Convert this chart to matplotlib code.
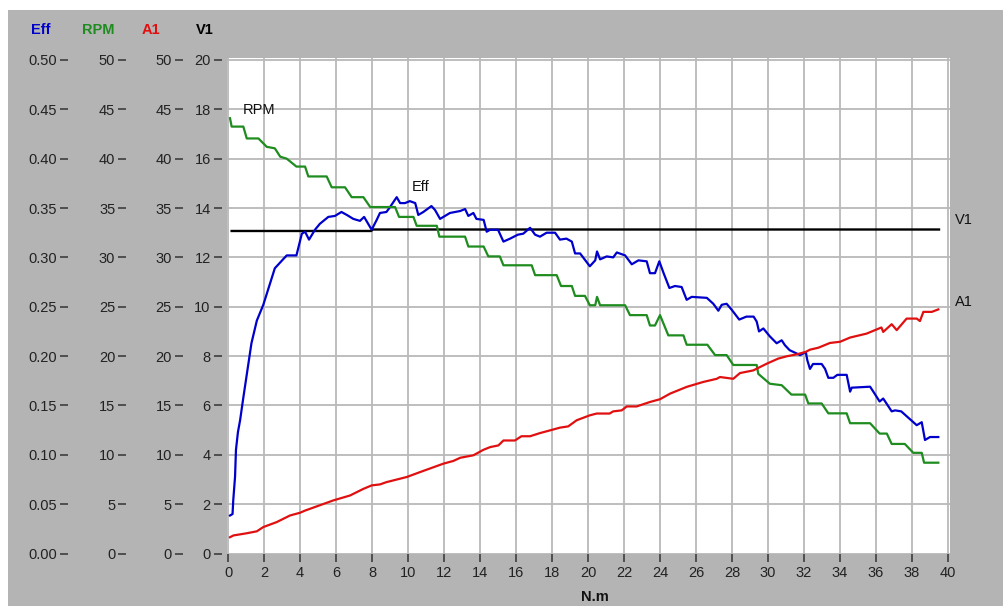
import numpy as np
import matplotlib
matplotlib.use('Agg')
import matplotlib.pyplot as plt
from matplotlib.patches import Rectangle
from matplotlib.ticker import FormatStrFormatter

plt.rcParams['font.family'] = ['Liberation Sans', 'DejaVu Sans']

# ------------------------------------------------------
# data (x = torque, N.m)

eff_x = [0.11, 0.25, 0.29, 0.39, 0.44, 0.55, 0.67, 0.85, 1.3, 1.6,
         1.96, 2.6, 3.26, 3.8, 4.1, 4.28, 4.5, 4.83, 5.1, 5.57,
         5.94, 6.3, 6.6, 6.96, 7.33, 7.56, 7.98, 8.26, 8.44, 8.8,
         9.0, 9.37, 9.56, 9.83, 10.1, 10.4, 10.57, 10.85, 11.3, 11.5,
         11.78, 12.33, 12.9, 13.17, 13.35, 13.63, 13.8, 14.2, 14.37, 14.56,
         15.0, 15.3, 15.67, 16.1, 16.4, 16.78, 17.06, 17.33, 17.7, 18.17,
         18.44, 18.8, 19.1, 19.28, 19.56, 20.1, 20.4, 20.5, 20.67, 21.04,
         21.4, 21.6, 22.06, 22.43, 22.8, 23.26, 23.44, 23.72, 23.96, 24.2,
         24.52, 24.83, 25.2, 25.48, 25.76, 26.6, 26.96, 27.24, 27.43, 27.7,
         27.98, 28.4, 28.8, 29.2, 29.37, 29.5, 29.74, 30.1, 30.48, 30.76,
         30.94, 31.2, 31.78, 32.1, 32.18, 32.33, 32.5, 32.98, 33.17, 33.35,
         33.63, 33.85, 34.37, 34.56, 34.65, 35.67, 35.85, 36.2, 36.4, 36.87,
         37.06, 37.4, 38.07, 38.26, 38.54, 38.72, 39.0, 39.46]
eff = [0.0385, 0.040, 0.054, 0.078, 0.105, 0.123, 0.135, 0.158, 0.213, 0.236,
       0.252, 0.289, 0.302, 0.302, 0.324, 0.326, 0.318, 0.328, 0.334, 0.341,
       0.342, 0.346, 0.343, 0.339, 0.337, 0.341, 0.328, 0.338, 0.345, 0.346,
       0.351, 0.361, 0.355, 0.355, 0.357, 0.355, 0.343, 0.346, 0.352, 0.348,
       0.339, 0.345, 0.347, 0.349, 0.342, 0.345, 0.339, 0.338, 0.326, 0.328,
       0.328, 0.316, 0.319, 0.323, 0.324, 0.330, 0.323, 0.321, 0.325, 0.325,
       0.318, 0.319, 0.316, 0.304, 0.304, 0.291, 0.297, 0.306, 0.298, 0.301,
       0.300, 0.305, 0.302, 0.293, 0.297, 0.296, 0.284, 0.284, 0.296, 0.284,
       0.269, 0.271, 0.270, 0.257, 0.260, 0.259, 0.253, 0.246, 0.252, 0.253,
       0.247, 0.237, 0.240, 0.240, 0.235, 0.225, 0.228, 0.220, 0.213, 0.216,
       0.211, 0.206, 0.201, 0.204, 0.196, 0.187, 0.192, 0.192, 0.187, 0.178,
       0.178, 0.181, 0.181, 0.164, 0.168, 0.169, 0.164, 0.154, 0.157, 0.144,
       0.145, 0.144, 0.133, 0.130, 0.133, 0.115, 0.118, 0.118]

rpm_x = [0.11, 0.2, 0.85, 1.04, 1.69, 2.15, 2.6, 2.9, 3.26, 3.8,
         4.28, 4.46, 5.48, 5.76, 6.5, 6.87, 7.52, 7.9, 9.28, 9.5,
         10.3, 10.48, 11.6, 11.74, 13.17, 13.35, 14.2, 14.46, 15.1, 15.3,
         16.87, 17.06, 18.26, 18.5, 19.1, 19.28, 19.83, 20.1, 20.4, 20.5,
         20.67, 22.06, 22.33, 23.26, 23.44, 23.72, 24.0, 24.46, 25.3, 25.48,
         26.63, 27.06, 27.7, 28.07, 29.37, 29.46, 30.1, 30.76, 31.3, 32.06,
         32.24, 32.98, 33.35, 34.37, 34.56, 35.67, 36.2, 36.6, 36.87, 37.6,
         38.07, 38.54, 38.67, 39.46]
rpm = [44.1, 43.25, 43.25, 42.05, 42.05, 41.2, 41.05, 40.2, 40.0, 39.2,
       39.2, 38.2, 38.2, 37.1, 37.1, 36.1, 36.1, 35.1, 35.1, 34.1,
       34.1, 33.2, 33.2, 32.1, 32.1, 31.1, 31.1, 30.1, 30.1, 29.2,
       29.2, 28.2, 28.2, 27.1, 27.1, 26.1, 26.1, 25.15, 25.15, 26.0,
       25.15, 25.15, 24.15, 24.15, 23.1, 23.1, 24.15, 22.1, 22.1, 21.15,
       21.15, 20.1, 20.1, 19.1, 19.1, 18.2, 17.2, 17.05, 16.1, 16.1,
       15.2, 15.2, 14.2, 14.2, 13.2, 13.2, 12.15, 12.15, 11.1, 11.1,
       10.2, 10.2, 9.2, 9.2]

a1_x = [0.11, 0.3, 1.04, 1.6, 1.96, 2.7, 3.44, 4.0, 4.28, 5.85,
        6.78, 7.52, 7.98, 8.44, 8.8, 9.56, 9.93, 10.67, 11.96, 12.52,
        12.9, 13.63, 14.18, 14.56, 15.02, 15.3, 15.94, 16.3, 16.78, 17.33,
        17.9, 18.44, 18.9, 19.37, 20.1, 20.48, 21.2, 21.4, 21.87, 22.15,
        22.7, 23.44, 24.0, 24.56, 25.48, 26.4, 27.15, 27.33, 28.07, 28.44,
        29.18, 29.93, 30.57, 31.04, 31.6, 32.1, 32.33, 32.8, 33.44, 34.0,
        34.56, 35.48, 36.3, 36.4, 36.87, 37.15, 37.7, 38.26, 38.44, 38.63,
        39.1, 39.46]
a1 = [1.65, 1.83, 2.05, 2.25, 2.68, 3.18, 3.85, 4.13, 4.35, 5.38,
      5.88, 6.55, 6.9, 7.0, 7.23, 7.58, 7.75, 8.25, 9.1, 9.38,
      9.7, 9.95, 10.5, 10.78, 10.95, 11.45, 11.45, 11.88, 11.88, 12.2,
      12.48, 12.75, 12.88, 13.5, 14.0, 14.18, 14.18, 14.4, 14.5, 14.9,
      14.9, 15.35, 15.63, 16.2, 16.88, 17.38, 17.7, 17.88, 17.7, 18.28,
      18.55, 19.23, 19.75, 19.98, 20.18, 20.43, 20.65, 20.85, 21.33, 21.45,
      21.88, 22.28, 22.9, 22.45, 23.23, 22.63, 23.8, 23.8, 23.55, 24.48,
      24.48, 24.73]

v1_x = [0.2, 7.95, 8.05, 39.5]
v1 = [13.07, 13.07, 13.13, 13.13]

x_ticks = list(range(0, 41, 2))
v1_ticks = list(range(0, 21, 2))
rpm_ticks = list(range(0, 51, 5))
a1_ticks = list(range(0, 51, 5))
eff_ticks = [i * 0.05 for i in range(11)]

# ------------------------------------------------------
# figure, in pixel units of the original

W, H = 1004, 606
BLUE, GREEN, RED, BLACK = '#0000cc', '#1e8c1e', '#e01010', 'black'
GRAY = '#b4b4b4'
FS = 10.5

fig = plt.figure(figsize=(W / 100, H / 100), dpi=100)
fig.patch.set_facecolor('white')
fig.add_artist(Rectangle((8 / W, 0), 1, 1 - 10 / H, transform=fig.transFigure,
                         facecolor=GRAY, edgecolor='none', zorder=-5))

left, right, top, bottom = 227.5, 950, 58, 554
ax = fig.add_axes([left / W, 1 - bottom / H, (right - left) / W, (bottom - top) / H])
ax.set_facecolor('white')
ax.set_xlim(-0.03, 40.11)
ax.set_ylim(-0.02, 20.08)
ax.set_xticks(x_ticks)
ax.set_yticks(v1_ticks)
ax.grid(True, color='#b9b9b9', lw=1.3)
ax.set_axisbelow(True)
for s in ax.spines.values():
    s.set_visible(False)
ax.spines['left'].set_position(('outward', 4.3))
ax.tick_params(axis='both', direction='out', length=5.5, width=1.1,
               color='#333333', labelcolor='#222222', labelsize=FS)
ax.tick_params(axis='y', pad=2.3)
ax.tick_params(axis='x', pad=3)


def side_axis(lim, ticks, fmt, offset):
    t = ax.twinx()
    t.set_ylim(lim)
    t.set_yticks(ticks)
    t.yaxis.set_ticks_position('left')
    for s in t.spines.values():
        s.set_visible(False)
    t.spines['left'].set_position(('outward', offset))
    t.yaxis.set_major_formatter(FormatStrFormatter(fmt))
    t.tick_params(axis='y', direction='out', length=5.5, width=1.1, pad=2.3,
                  color='#333333', labelcolor='#222222', labelsize=FS)
    return t


ax_eff = side_axis((-0.0005, 0.502), eff_ticks, '%.2f', 115)
ax_rpm = side_axis((-0.05, 50.2), rpm_ticks, '%d', 73)
ax_a1 = side_axis((-0.05, 50.2), a1_ticks, '%d', 32.3)

ax.plot(v1_x, v1, color=BLACK, lw=1.7)
ax_eff.plot(eff_x, eff, color=BLUE, lw=1.6)
ax_rpm.plot(rpm_x, rpm, color=GREEN, lw=1.6)
ax_a1.plot(a1_x, a1, color=RED, lw=1.6)


def px_text(x, y, s, **kw):
    fig.text(x / W, 1 - y / H, s, fontsize=FS, **kw)


# column headers above the value scales
px_text(41, 30, 'Eff', color=BLUE, weight='bold', ha='center', va='center')
px_text(98, 30, 'RPM', color=GREEN, weight='bold', ha='center', va='center')
px_text(151, 30, 'A1', color=RED, weight='bold', ha='center', va='center')
px_text(205, 30, 'V1', color=BLACK, weight='bold', ha='center', va='center')

# curve names
px_text(259, 110, 'RPM', color='#111111', ha='center', va='center')
px_text(421, 187, 'Eff', color='#111111', ha='center', va='center')
px_text(955, 220, 'V1', color='#111111', ha='left', va='center')
px_text(955, 302, 'A1', color='#111111', ha='left', va='center')
px_text(595, 590, 'N.m', color='#111111', weight='bold', ha='center', va='top')

fig.savefig('out.png', dpi=100)
